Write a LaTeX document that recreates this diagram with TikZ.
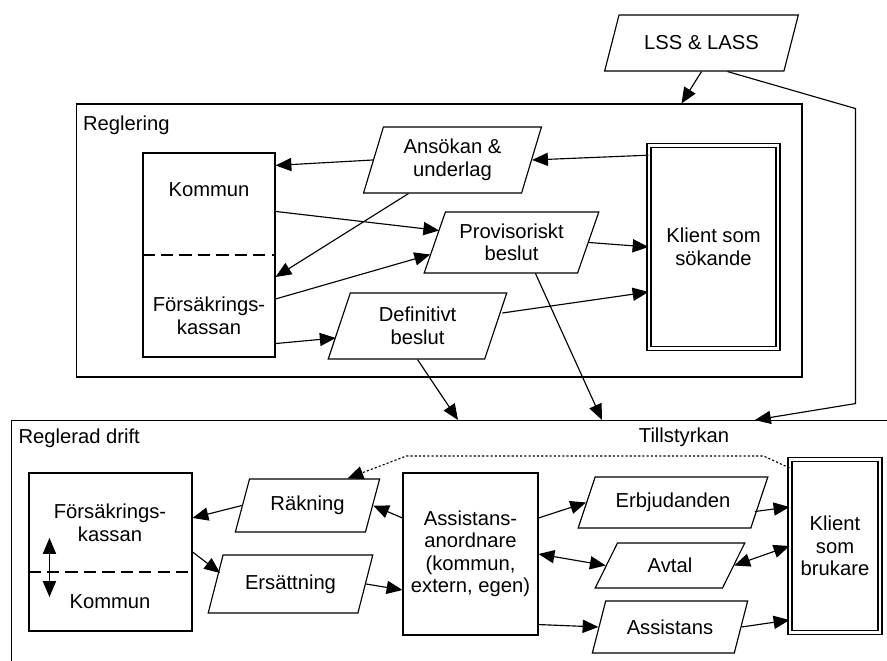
\documentclass[tikz,border=0pt]{standalone}
\usepackage{fontspec}
\setmainfont{Liberation Sans}
\usepackage{tikz}
\usetikzlibrary{shapes.geometric,arrows.meta,calc}

\begin{document}
\begin{tikzpicture}[x=0.02cm,y=-0.02cm,line width=0.65pt,
    every node/.style={font=\fontsize{11.5}{12.8}\selectfont,align=center},
    box/.style={draw,rectangle,inner sep=0pt},
    client/.style={draw,rectangle,double,double distance=1.6pt,inner sep=0pt},
    para/.style={draw,trapezium,trapezium stretches=true,trapezium left angle=#1,trapezium right angle=180-#1,inner sep=1pt},
    flow/.style={-{Triangle[length=9pt,width=7.5pt]}},
    flows/.style={{Triangle[length=9pt,width=7.5pt]}-{Triangle[length=9pt,width=7.5pt]}},
    dashline/.style={dash pattern=on 7pt off 3.5pt},
    dotline/.style={dash pattern=on 1.2pt off 1.2pt}]
    \useasboundingbox (0,0) rectangle (887,661);
    \clip (0,0) rectangle (887,661);

    \node[para=60,minimum width=3.9cm,minimum height=1.12cm] (lss) at (701.5,43) {LSS \& LASS};

    % Reglering
    \node[box,minimum width=14.52cm,minimum height=5.46cm] (regl) at (439,240.5) {};
    \node[anchor=base west,inner sep=0pt] (reglname) at ($(regl.north west)+(7,27)$) {Reglering};
    \node[box,minimum width=2.64cm,minimum height=4.08cm] (komfk) at (209,255) {};
    \draw[dashline] (komfk.west) -- (komfk.east);
    \node (kom) at (209,190) {Kommun};
    \node (fk) at (209,316) {Försäkrings-\\kassan};
    \node[client,minimum width=2.58cm,minimum height=4.05cm] (ks) at (713.5,247) {Klient som\\sökande};
    \node[para=72,minimum width=3.58cm,minimum height=1.32cm] (ans) at (452.5,160) {Ansökan \&\\underlag};
    \node[para=67,minimum width=3.5cm,minimum height=1.22cm] (prov) at (511.5,242.5) {Provisoriskt\\beslut};
    \node[para=72,minimum width=3.58cm,minimum height=1.32cm] (defin) at (417.5,326) {Definitivt\\beslut};

    % Reglerad drift
    \node[box,minimum width=17.9cm,minimum height=6cm,anchor=north west] (regd) at (11,420) {};
    \node[anchor=base west,inner sep=0pt] (regdname) at ($(regd.north west)+(7,24)$) {Reglerad drift};
    \node[anchor=base,inner sep=0pt] (till) at ($(regd.north west)+(673,23)$) {Tillstyrkan};
    \node[box,minimum width=3.26cm,minimum height=3.16cm] (fkk) at (110.5,552) {};
    \draw[dashline] ($(fkk.west)+(0,20)$) -- ($(fkk.east)+(0,20)$);
    \node (fk2) at (110,523) {Försäkrings-\\kassan};
    \node (kom2) at (110,602) {Kommun};
    \node[para=67,minimum width=2.9cm,minimum height=1.06cm] (rak) at (307.5,505.5) {Räkning};
    \node[para=65,minimum width=3.3cm,minimum height=1.16cm] (ers) at (290.5,584) {Ersättning};
    \node[box,minimum width=2.7cm,minimum height=3.24cm] (asa) at (470.5,554) {Assistans-\\anordnare\\(kommun,\\extern, egen)};
    \node[para=60,minimum width=3.8cm,minimum height=1.02cm] (erbj) at (673,502.5) {Erbjudanden};
    \node[para=61,minimum width=3.0cm,minimum height=0.9cm] (avtal) at (670,565.5) {Avtal};
    \node[para=63,minimum width=3.12cm,minimum height=1.04cm] (assist) at (670,627) {Assistans};
    \node[client,minimum width=1.8cm,minimum height=3.46cm] (kb) at (835,546) {Klient\\som\\brukare};

    % flows, top
    \draw[flow] (lss.south) -- ($(regl.north west)+(606,0)$);
    \draw[flow] ($(lss.south)+(26,0)$) -- ++(128,37) -- ++(0,295) -- ($(regd.north west)+(744,0)$);
    \draw[flow] ($(ks.north west)+(0,10)$) -- (ans.east);
    \draw[flow] (ans.west) -- ($(komfk.north east)+(0,13)$);
    \draw[flow] ($(ans.south)+(-44,0)$) -- ($(komfk.east)+(0,22)$);
    \draw[flow] ($(komfk.north east)+(0,59)$) -- ($(prov.west)+(5,-12)$);
    \draw[flow] ($(komfk.east)+(0,44)$) -- ($(prov.west)+(-4,12)$);
    \draw[flow] ($(komfk.south east)+(0,-14)$) -- ($(defin.west)+(-3,12)$);
    \draw[flow] (prov.east) -- (ks.west);
    \draw[flow] ($(defin.east)+(6,-13)$) -- ($(ks.west)+(0,45)$);
    \draw[flow] (defin.south) -- ($(regd.north west)+(447,0)$);
    \draw[flow] ($(prov.south)+(24,0)$) -- ($(regd.north west)+(591,0)$);

    % flows, bottom
    \draw[flows] ($(fkk.west)+(21,-14)$) -- ($(fkk.west)+(21,45)$);
    \draw[flow] (rak.west) -- ($(fkk.east)+(0,-34)$);
    \draw[flow] ($(asa.west)+(0,-36)$) -- (rak.east);
    \draw[flow] (fkk.east) -- ($(ers.west)+(5,-11)$);
    \draw[flow] (ers.east) -- ($(asa.west)+(0,36)$);
    \draw[flow] ($(asa.east)+(0,-36)$) -- (erbj.west);
    \draw[flows] (asa.east) -- (avtal.west);
    \draw[flows] (avtal.east) -- (kb.west);
    \draw[flow] ($(erbj.east)+(-5,9)$) -- ($(kb.west)+(0,-39)$);
    \draw[flow] ($(asa.south east)+(0,-11)$) -- (assist.west);
    \draw[flow] (assist.east) -- ($(kb.south west)+(0,-13)$);
    \draw[flow,dotline] ($(kb.north west)+(0,9)$) -- ++(-26,-12) -- ++(-357,0) -- ($(rak.north)+(40,0)$);
\end{tikzpicture}
\end{document}
